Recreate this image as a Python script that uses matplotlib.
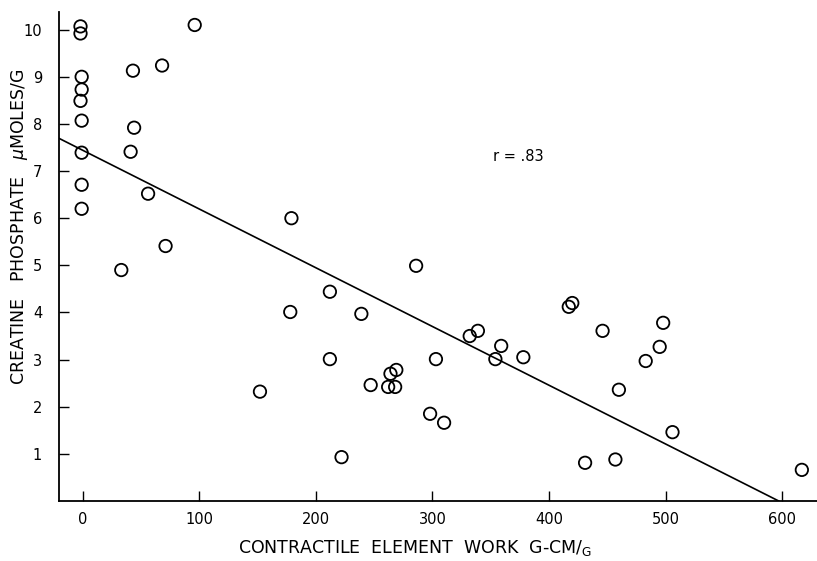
import matplotlib.pyplot as plt

# contractile element work (g-cm/g) and creatine phosphate (umoles/g)
work = [-2, -2, -1, -1, -2, -1, -1, -1, -1,
        43, 68, 96, 44, 41, 56, 71, 33,
        179, 178, 152,
        286, 212, 239, 212, 269, 264, 247, 262, 268,
        303, 298, 310, 222, 332, 339, 359, 354, 378,
        417, 420, 446, 460, 431, 457,
        506, 617, 483, 495, 498]
cp = [10.07, 9.92, 9.0, 8.73, 8.49, 8.07, 7.39, 6.71, 6.2,
      9.13, 9.24, 10.1, 7.92, 7.41, 6.52, 5.41, 4.9,
      6.0, 4.01, 2.32,
      4.99, 4.44, 3.97, 3.01, 2.78, 2.70, 2.46, 2.42, 2.42,
      3.01, 1.85, 1.66, 0.93, 3.5, 3.61, 3.29, 3.01, 3.05,
      4.12, 4.2, 3.61, 2.36, 0.81, 0.88,
      1.46, 0.66, 2.97, 3.27, 3.78]

fit_intercept = 7.44
fit_slope = -0.01246
r_text = 'r = .83'

x_ticks = [0, 100, 200, 300, 400, 500, 600]
y_ticks = [1, 2, 3, 4, 5, 6, 7, 8, 9, 10]

fig = plt.figure(figsize=(8.17, 5.61), dpi=100)
ax = fig.add_axes([0.072, 0.107, 0.928, 0.872])

ax.scatter(work, cp, s=80, facecolors='none', edgecolors='black',
           linewidths=1.3, zorder=3)
ax.axline((0, fit_intercept), slope=fit_slope, color='black', lw=1.2)

ax.set_xlim(-20.6, 630)
ax.set_ylim(0, 10.38)
ax.set_xticks(x_ticks)
ax.set_yticks(y_ticks)
ax.tick_params(direction='in', length=7, width=1, labelsize=10.5,
               colors='black')
ax.tick_params(axis='x', pad=8)
ax.tick_params(axis='y', pad=12)

for side in ('top', 'right'):
    ax.spines[side].set_visible(False)
for side in ('left', 'bottom'):
    ax.spines[side].set_linewidth(1.3)

ax.text(374, 7.3, r_text, ha='center', va='center', fontsize=10.5)

ax.set_xlabel(r'CONTRACTILE  ELEMENT  WORK  G-CM/$_{\mathrm{G}}$',
              fontsize=12.5)
ax.set_ylabel(r'CREATINE   PHOSPHATE   $\mu$MOLES/G', fontsize=12.5)
ax.xaxis.set_label_coords(0.47, -0.075)
ax.yaxis.set_label_coords(-0.038, 0.56)

fig.savefig('out.png', dpi=100)
